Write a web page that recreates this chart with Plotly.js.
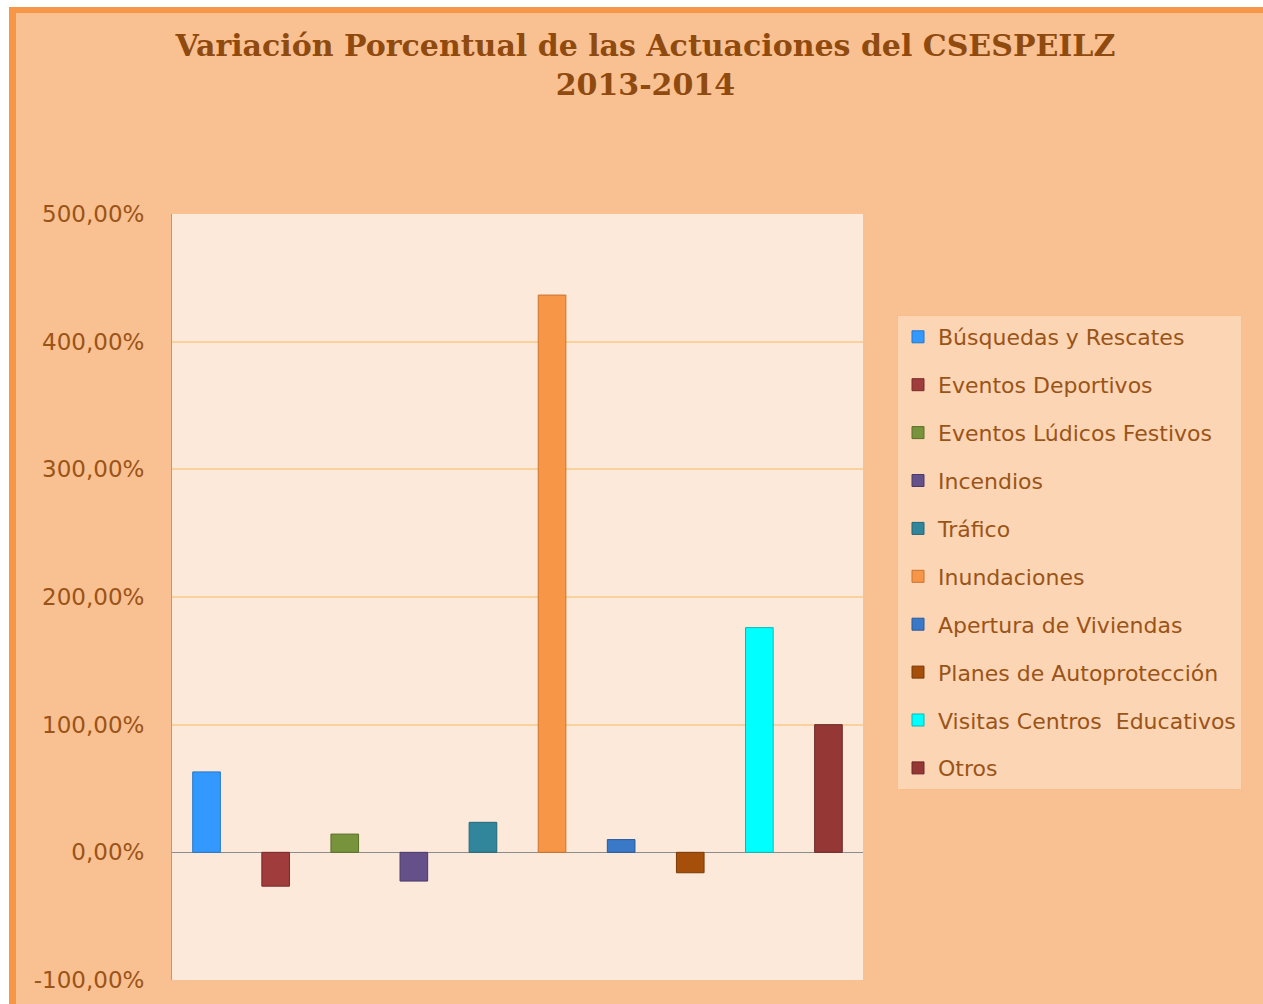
<!DOCTYPE html>
<html>
<head>
<meta charset="utf-8">
<script src="https://cdn.plot.ly/plotly-3.0.1.min.js"></script>
<style>
  html, body { margin: 0; padding: 0; background: #ffffff; }
  #frame { position: absolute; left: 9px; top: 7px; width: 1254px; height: 997px;
           background: #F9C091; border-left: 7px solid #F79646; border-top: 6px solid #F79646; box-sizing: border-box; }
  #chart { position: absolute; left: 0; top: 0; width: 1263px; height: 1004px; }
</style>
</head>
<body>
<div id="frame"></div>
<div id="chart"></div>
<script>
const categories = ["Búsquedas y Rescates", "Eventos Deportivos", "Eventos Lúdicos Festivos", "Incendios", "Tráfico",
                    "Inundaciones", "Apertura de Viviendas", "Planes de Autoprotección", "Visitas Centros  Educativos", "Otros"];
const variation = [0.63, -0.265, 0.143, -0.225, 0.235, 4.365, 0.10, -0.16, 1.76, 1.00];
const barColors = ["#3399FF", "#A03C3C", "#77933C", "#65508A", "#31869B", "#F79646", "#3A78C8", "#A64F0A", "#00FFFF", "#953735"];
const lineColors = ["#2277CC", "#7A2A2A", "#5A7028", "#4A3A6A", "#226677", "#C87430", "#2A5A9A", "#7A3A06", "#00BBBB", "#6E2826"];
const yTicks = [-1, 0, 1, 2, 3, 4, 5];
const yTickText = ["-100,00%", "0,00%", "100,00%", "200,00%", "300,00%", "400,00%", "500,00%"];

const traces = categories.map((c, i) => ({
  type: "bar",
  name: c,
  x: [c],
  y: [variation[i]],
  width: 0.4,
  legendgroup: "g" + i,
  marker: { color: barColors[i], line: { color: lineColors[i], width: 1 } },
  hoverinfo: "name+y"
}));

const layout = {
  width: 1263, height: 1004,
  paper_bgcolor: "rgba(0,0,0,0)",
  plot_bgcolor: "#FDE9D9",
  separators: ",.",
  barmode: "overlay",
  margin: { l: 172, r: 400, t: 214, b: 24 },
  title: {
    text: "<b>Variación Porcentual de las Actuaciones del CSESPEILZ<br>2013-2014</b>",
    font: { family: "DejaVu Serif", size: 30, color: "#8F4A0F" },
    xref: "container", yref: "container",
    x: 0.511, xanchor: "center", y: 1 - 56 / 1004, yanchor: "top",
    pad: { t: 0, b: 0 }
  },
  xaxis: {
    type: "category",
    showticklabels: false,
    showgrid: false,
    zeroline: false,
    showline: false,
    fixedrange: true
  },
  yaxis: {
    range: [-1, 5],
    tickvals: yTicks,
    ticktext: yTickText,
    tickfont: { family: "DejaVu Sans", size: 23, color: "#9A5418" },
    ticks: "",
    ticklabelstandoff: 22,
    showgrid: true,
    gridcolor: "#FAD19C",
    gridwidth: 2,
    zeroline: true,
    zerolinecolor: "#8C8C8C",
    zerolinewidth: 1.5,
    showline: true,
    linecolor: "#A0A0A0",
    linewidth: 1
  },
  showlegend: true,
  legend: {
    x: (897 - 172) / 691, xanchor: "left",
    y: (980 - 315) / 766, yanchor: "top",
    bgcolor: "#FCD5B4",
    bordercolor: "#F9BE8A",
    borderwidth: 1,
    font: { family: "DejaVu Sans", size: 22, color: "#9A5418" },
    tracegroupgap: 16.3,
    traceorder: "grouped",
    itemwidth: 30
  }
};

Plotly.newPlot("chart", traces, layout, { displayModeBar: false, staticPlot: true });
</script>
</body>
</html>
